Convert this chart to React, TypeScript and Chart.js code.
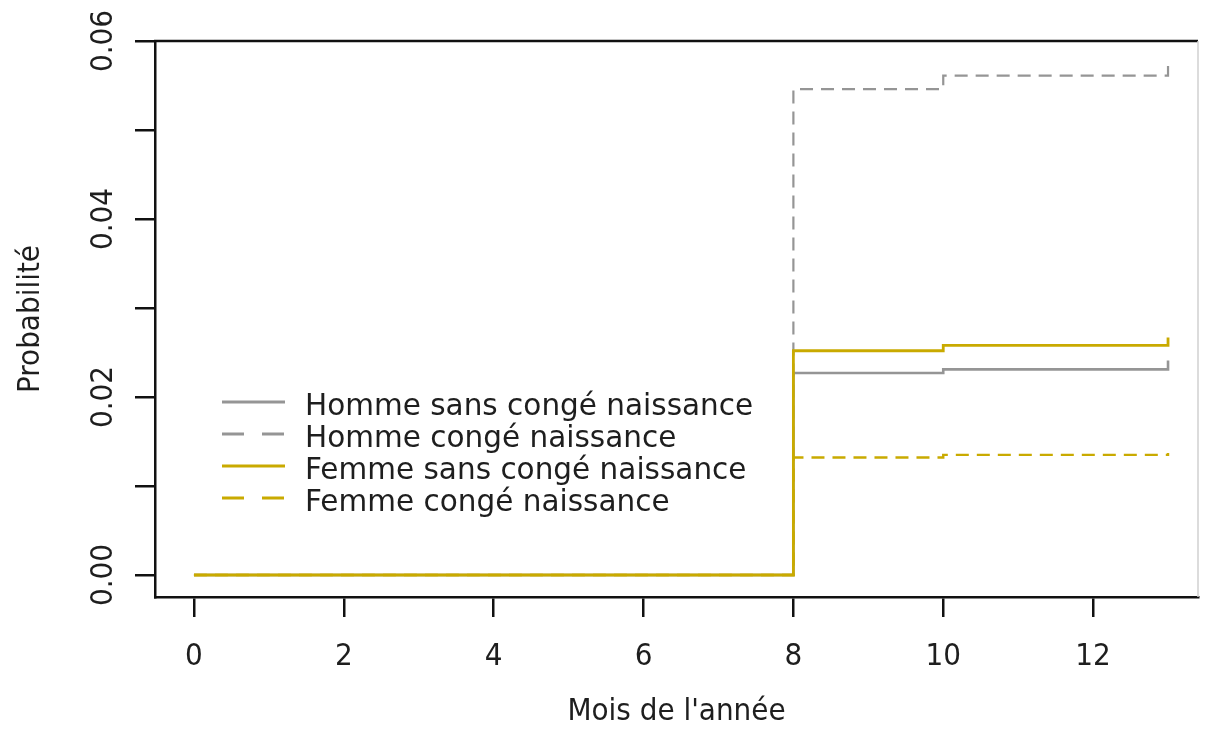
import React, { useEffect, useRef } from 'react';
import { Chart, registerables } from 'chart.js';

Chart.register(...registerables);

// ---- data ----
const months = [0, 8, 10, 13];
const hommeSans = [0, 0.0227, 0.0231, 0.0241];
const hommeConge = [0, 0.0546, 0.0561, 0.0575];
const femmeSans = [0, 0.0252, 0.0258, 0.0267];
const femmeConge = [0, 0.0132, 0.0135, 0.0137];

const seriesNames = [
  'Homme sans congé naissance',
  'Homme congé naissance',
  'Femme sans congé naissance',
  'Femme congé naissance',
];

const xTicks = [0, 2, 4, 6, 8, 10, 12];
const yTicks = [0, 0.01, 0.02, 0.03, 0.04, 0.05, 0.06];
const yTickLabels = ['0.00', '', '0.02', '', '0.04', '', '0.06'];

const xTitle = "Mois de l'année";
const yTitle = 'Probabilité';

// ---- styles ----
const GRAY = '#959595';
const GOLD = '#c9aa00';
const AXIS_FONT = "'Liberation Sans Narrow', 'DejaVu Sans Condensed', 'Liberation Sans', Arial, sans-serif";
const LEGEND_FONT = "'DejaVu Sans', sans-serif";

const seriesStyles = [
  { color: GRAY, dash: [] as number[], width: 2.6 },
  { color: GRAY, dash: [13, 8], width: 2.2 },
  { color: GOLD, dash: [] as number[], width: 2.8 },
  { color: GOLD, dash: [13, 8], width: 2.4 },
];
const seriesValues = [hommeSans, hommeConge, femmeSans, femmeConge];
const drawOrder = [3, 2, 0, 1];

const boxLegendPlugin = {
  id: 'boxLegend',
  afterDraw(chart: any) {
    const { ctx, chartArea } = chart;
    ctx.save();
    // top border
    ctx.strokeStyle = '#111';
    ctx.lineWidth = 2.5;
    ctx.beginPath();
    ctx.moveTo(chartArea.left - 1, chartArea.top);
    ctx.lineTo(chartArea.right, chartArea.top);
    ctx.stroke();
    // right border (faint, at image edge)
    ctx.strokeStyle = '#d0d0d0';
    ctx.lineWidth = 1.5;
    ctx.beginPath();
    ctx.moveTo(chartArea.right, chartArea.top);
    ctx.lineTo(chartArea.right, chartArea.bottom);
    ctx.stroke();

    // legend
    const lx0 = 222;
    const lx1 = 285;
    const tx = 305;
    const y0 = 402;
    const dy = 32;
    ctx.font = `29.5px ${LEGEND_FONT}`;
    ctx.textBaseline = 'middle';
    ctx.textAlign = 'left';
    seriesNames.forEach((name, i) => {
      const st = seriesStyles[i];
      const y = y0 + i * dy;
      ctx.strokeStyle = st.color;
      ctx.lineWidth = 3.2;
      ctx.setLineDash(st.dash.length ? [22, 18] : []);
      ctx.beginPath();
      ctx.moveTo(lx0, y);
      ctx.lineTo(lx1, y);
      ctx.stroke();
      ctx.setLineDash([]);
      ctx.fillStyle = '#1e1e1e';
      ctx.fillText(name, tx, y + 5);
    });
    ctx.restore();
  },
};

export default function App() {
  const canvasRef = useRef<HTMLCanvasElement | null>(null);

  useEffect(() => {
    const canvas = canvasRef.current;
    if (!canvas) return;
    const datasets = seriesNames.map((name, i) => ({
      label: name,
      data: months.map((m, j) => ({ x: m, y: seriesValues[i][j] })),
      borderColor: seriesStyles[i].color,
      backgroundColor: seriesStyles[i].color,
      borderWidth: seriesStyles[i].width,
      borderDash: seriesStyles[i].dash,
      stepped: true as const,
      pointRadius: 0,
      fill: false,
      order: drawOrder[i],
    }));

    const chart = new Chart(canvas, {
      type: 'line',
      data: { datasets },
      options: {
        animation: false,
        responsive: false,
        devicePixelRatio: 1,
        layout: { padding: { top: 41, right: 7, left: 0, bottom: 0 } },
        plugins: { legend: { display: false }, tooltip: { enabled: false } },
        scales: {
          x: {
            type: 'linear',
            min: -0.52,
            max: 13.4,
            afterBuildTicks: (s: any) => {
              s.ticks = xTicks.map((v) => ({ value: v }));
            },
            afterFit: (s: any) => {
              s.height = 147;
            },
            grid: {
              display: true,
              drawOnChartArea: false,
              drawTicks: true,
              tickLength: 20,
              color: '#111',
              lineWidth: 2.5,
            },
            border: { display: true, color: '#111', width: 2.5 },
            ticks: {
              color: '#1e1e1e',
              font: { family: AXIS_FONT, size: 31 },
              padding: 21,
              maxRotation: 0,
              minRotation: 0,
              callback: (v: any) => String(v),
            },
            title: {
              display: true,
              text: xTitle,
              color: '#1e1e1e',
              font: { family: AXIS_FONT, size: 31 },
              padding: { top: 0, bottom: 13 },
            },
          },
          y: {
            type: 'linear',
            min: -0.00247,
            max: 0.06,
            afterBuildTicks: (s: any) => {
              s.ticks = yTicks.map((v) => ({ value: v }));
            },
            afterFit: (s: any) => {
              s.width = 155;
            },
            grid: {
              display: true,
              drawOnChartArea: false,
              drawTicks: true,
              tickLength: 20,
              color: '#111',
              lineWidth: 2.5,
            },
            border: { display: true, color: '#111', width: 2.5 },
            ticks: {
              color: '#1e1e1e',
              font: { family: AXIS_FONT, size: 31 },
              padding: 0,
              minRotation: 90,
              maxRotation: 90,
              crossAlign: 'center',
              callback: (_v: any, i: number) => yTickLabels[i],
            },
            title: {
              display: true,
              text: yTitle,
              color: '#1e1e1e',
              font: { family: AXIS_FONT, size: 31 },
              padding: { top: 12, bottom: 0 },
            },
          },
        },
      },
      plugins: [boxLegendPlugin],
    });
    return () => chart.destroy();
  }, []);

  return (
    <div style={{ position: 'fixed', left: 0, top: 0, width: 1205, height: 744, background: '#fff' }}>
      <canvas ref={canvasRef} width={1205} height={744} />
    </div>
  );
}
